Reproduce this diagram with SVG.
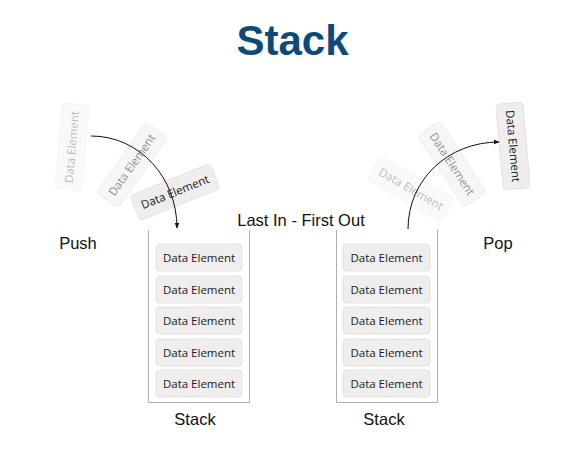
<svg xmlns="http://www.w3.org/2000/svg" width="566" height="453" viewBox="0 0 566 453">
<defs>
<style>
.el rect{fill:#efeeec;stroke:#e2e1df;stroke-width:1}
.el text{font-family:"Open Sans","Noto Sans",sans-serif;font-size:11.5px;fill:#1a1a1a;text-anchor:middle}
.lbl{font-family:"Liberation Sans",Arial,sans-serif;font-size:16.5px;fill:#111;text-anchor:middle}
.wall{fill:none;stroke:#b0b0b0;stroke-width:1}
.conn{fill:none;stroke:#111;stroke-width:1}
</style>
<marker id="ah" viewBox="0 0 10 10" refX="9" refY="5" markerWidth="6" markerHeight="6" orient="auto" markerUnits="userSpaceOnUse">
<path d="M0,1 L10,5 L0,9 z" fill="#111"/>
</marker>
</defs>
<rect width="566" height="453" fill="#ffffff"/>
<text x="292.5" y="55" font-family="Liberation Sans,Arial,sans-serif" font-weight="bold" font-size="42" fill="#0d4a79" text-anchor="middle">Stack</text>

<g id="labels">
<text class="lbl" x="301" y="226">Last In - First Out</text>
<text class="lbl" x="78" y="249">Push</text>
<text class="lbl" x="498" y="249">Pop</text>
<text class="lbl" x="195" y="425">Stack</text>
<text class="lbl" x="384" y="425">Stack</text>
</g>

<g id="stack-left">
<path class="wall" d="M148.5,230 V402.5 H249.5 V230"/>
<g class="el"><rect x="156" y="244" width="86" height="27" rx="4"/><text x="199" y="261.5">Data Element</text></g>
<g class="el"><rect x="156" y="276" width="86" height="27" rx="4"/><text x="199" y="293.5">Data Element</text></g>
<g class="el"><rect x="156" y="307" width="86" height="27" rx="4"/><text x="199" y="324.5">Data Element</text></g>
<g class="el"><rect x="156" y="339" width="86" height="27" rx="4"/><text x="199" y="356.5">Data Element</text></g>
<g class="el"><rect x="156" y="370" width="86" height="27" rx="4"/><text x="199" y="387.5">Data Element</text></g>
</g>

<g id="stack-right">
<path class="wall" d="M336.5,230 V402.5 H437.5 V230"/>
<g class="el"><rect x="343" y="244" width="87" height="27" rx="4"/><text x="386.5" y="261.5">Data Element</text></g>
<g class="el"><rect x="343" y="276" width="87" height="27" rx="4"/><text x="386.5" y="293.5">Data Element</text></g>
<g class="el"><rect x="343" y="307" width="87" height="27" rx="4"/><text x="386.5" y="324.5">Data Element</text></g>
<g class="el"><rect x="343" y="339" width="87" height="27" rx="4"/><text x="386.5" y="356.5">Data Element</text></g>
<g class="el"><rect x="343" y="370" width="87" height="27" rx="4"/><text x="386.5" y="387.5">Data Element</text></g>
</g>

<g id="push-elements">
<g class="el" opacity="0.3" transform="translate(72,147) rotate(-85)"><rect x="-43" y="-13.5" width="86" height="27" rx="4"/><text x="0" y="4">Data Element</text></g>
<g class="el" opacity="0.5" transform="translate(132,165) rotate(-55)"><rect x="-43" y="-13.5" width="86" height="27" rx="4"/><text x="0" y="4">Data Element</text></g>
<g class="el" transform="translate(175,192) rotate(-22)"><rect x="-43" y="-13.5" width="86" height="27" rx="4"/><text x="0" y="4">Data Element</text></g>
</g>

<g id="pop-elements">
<g class="el" opacity="0.3" transform="translate(411,189) rotate(30)"><rect x="-43" y="-13.5" width="86" height="27" rx="4"/><text x="0" y="4">Data Element</text></g>
<g class="el" opacity="0.5" transform="translate(452,164) rotate(57)"><rect x="-43" y="-13.5" width="86" height="27" rx="4"/><text x="0" y="4">Data Element</text></g>
<g class="el" transform="translate(513,146) rotate(85)"><rect x="-43" y="-13.5" width="86" height="27" rx="4"/><text x="0" y="4">Data Element</text></g>
</g>

<g id="connectors">
<path class="conn" d="M91,136 C140,136 177,178 177,228" marker-end="url(#ah)"/>
<path class="conn" d="M408,229 C408,180 448,142 499,142" marker-end="url(#ah)"/>
</g>
</svg>
